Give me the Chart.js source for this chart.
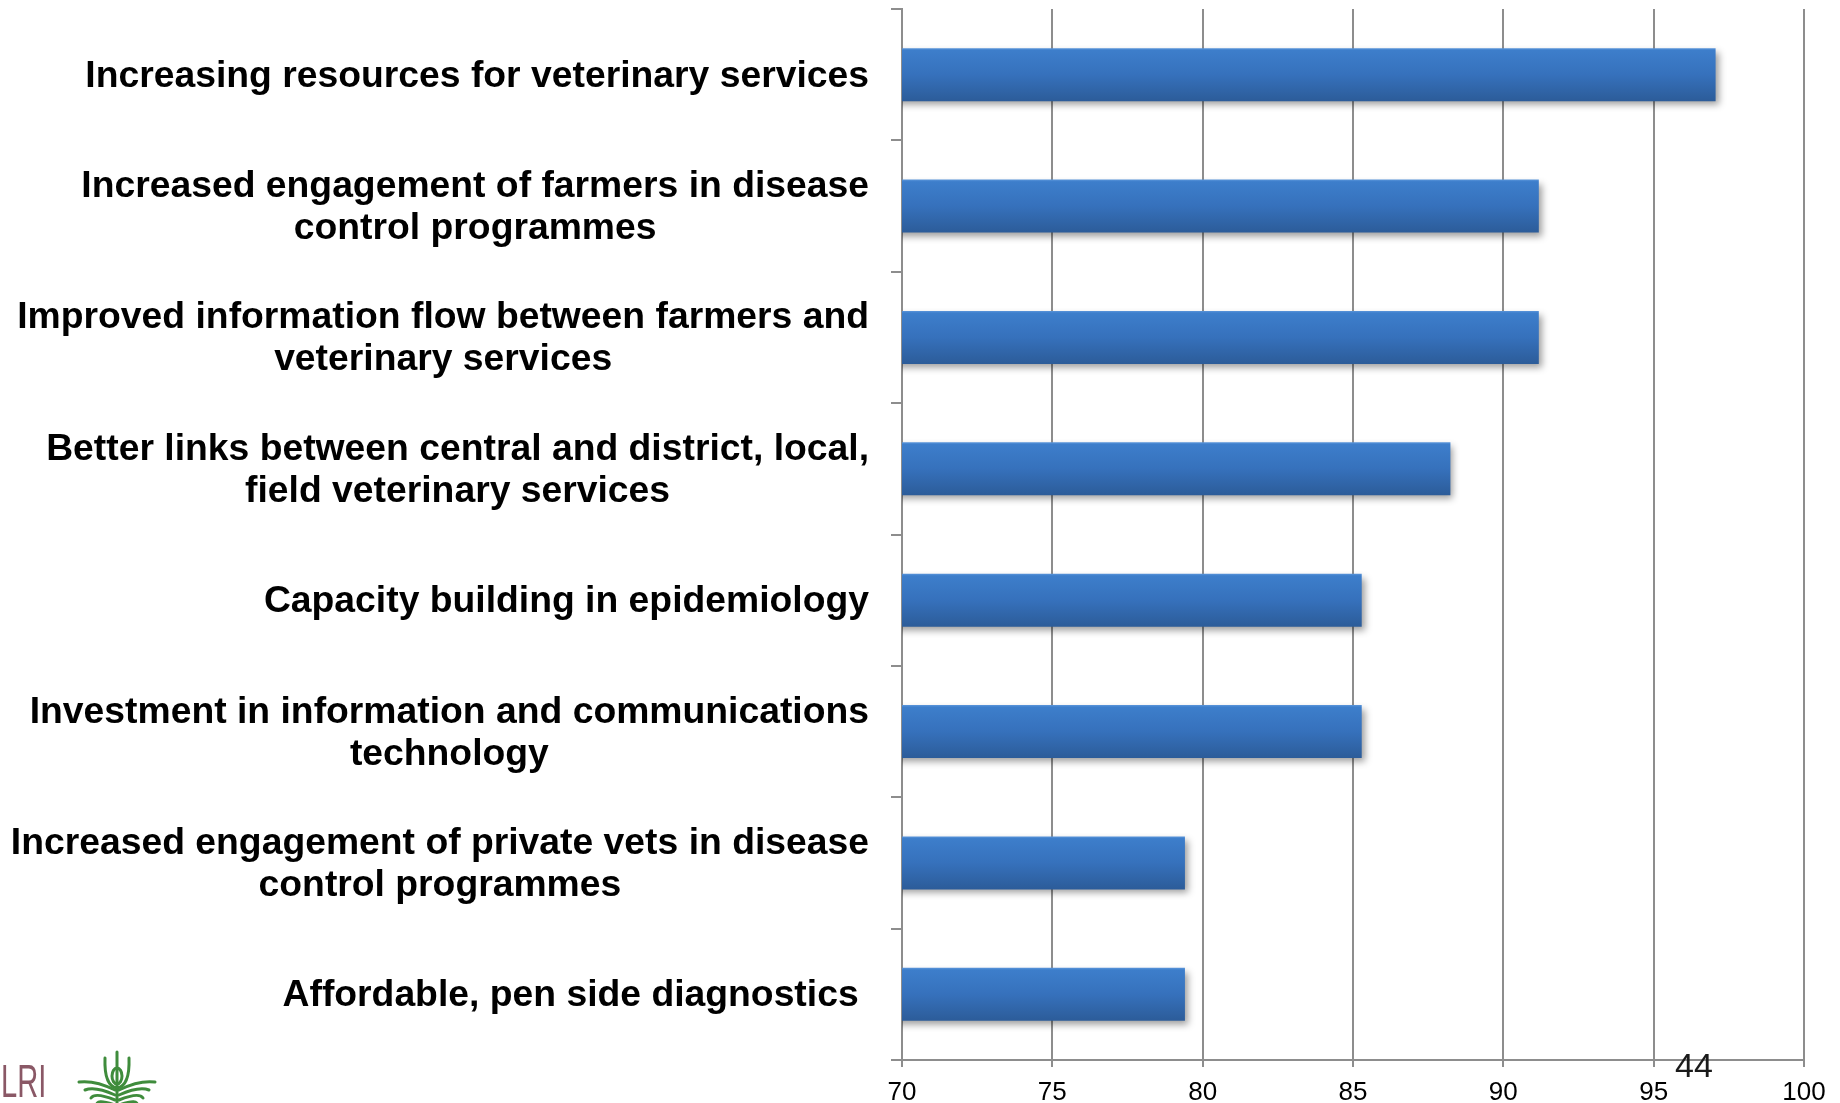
<!DOCTYPE html>
<html><head><meta charset="utf-8">
<script src="https://cdn.jsdelivr.net/npm/chart.js@4.4.1/dist/chart.umd.min.js"></script>
<style>html,body{margin:0;padding:0;background:#fff;overflow:hidden}#wrap{position:relative;width:1840px;height:1103px}</style>
</head><body><div id="wrap"><canvas id="c"></canvas></div>
<script>
const categories = [
  ["Increasing resources for veterinary services"],
  ["Increased engagement of farmers in disease", "control programmes"],
  ["Improved information flow between farmers and", "veterinary services"],
  ["Better links between central and district, local,", "field veterinary services"],
  ["Capacity building in epidemiology"],
  ["Investment in information and communications", "technology"],
  ["Increased engagement of private vets in disease", "control programmes"],
  ["Affordable, pen side diagnostics "]
];
const values = [97.06, 91.18, 91.18, 88.24, 85.29, 85.29, 79.41, 79.41];
const xMin = 70;
const xMax = 100;
const xStep = 5;
const slideNumber = "44";
const logoText = "LRI";

const GRID = '#8d8d8d';
const labelFont = 'bold 37.3px "Liberation Sans", Arial, sans-serif';

function barGradient(c) {
  const chart = c.chart;
  const y = chart.scales && chart.scales.y;
  if (!y || c.dataIndex === undefined || !chart.chartArea) return '#3571bc';
  const yc = y.getPixelForValue(c.dataIndex);
  const band = Math.abs(y.getPixelForValue(1) - y.getPixelForValue(0));
  const h = band * 0.403 / 2;
  if (!isFinite(yc) || !isFinite(h) || h <= 0) return '#3571bc';
  const g = chart.ctx.createLinearGradient(0, yc - h, 0, yc + h);
  g.addColorStop(0, '#5a95da');
  g.addColorStop(0.04, '#3d7ecb');
  g.addColorStop(0.5, '#3671bc');
  g.addColorStop(1, '#2c5c99');
  return g;
}

const shadowPlugin = {
  id: 'shadow',
  beforeDatasetsDraw(chart) {
    const ctx = chart.ctx;
    ctx.save();
    ctx.shadowColor = 'rgba(0,0,0,0.38)';
    ctx.shadowBlur = 7;
    ctx.shadowOffsetX = 3;
    ctx.shadowOffsetY = 4;
  },
  afterDatasetsDraw(chart) { chart.ctx.restore(); }
};

const labelPlugin = {
  id: 'catLabels',
  afterDraw(chart) {
    const ctx = chart.ctx, y = chart.scales.y;
    ctx.save();
    ctx.font = labelFont;
    ctx.fillStyle = '#000';
    ctx.textAlign = 'center';
    ctx.textBaseline = 'alphabetic';
    const right = chart.chartArea.left - 33;
    categories.forEach((lines, i) => {
      const yc = y.getPixelForValue(i);
      const w = Math.max(...lines.map(l => ctx.measureText(l).width));
      const cx = right - w / 2;
      lines.forEach((l, k) => {
        ctx.fillText(l, cx, yc + (k - (lines.length - 1) / 2) * 42 + 12);
      });
    });
    ctx.font = '34px "Liberation Sans", Arial, sans-serif';
    ctx.fillStyle = '#1a1a1a';
    ctx.textAlign = 'center';
    ctx.fillText(slideNumber, 1694, 1077);
    ctx.save();
    ctx.translate(1, 1097);
    ctx.scale(0.62, 1);
    ctx.font = '47px "Liberation Sans", Arial, sans-serif';
    ctx.fillStyle = '#8a5866';
    ctx.textAlign = 'left';
    ctx.fillText(logoText, 0, 0);
    ctx.restore();
    ctx.strokeStyle = '#3f8c3c';
    ctx.lineWidth = 3;
    ctx.lineCap = 'round';
    const cx = 117;
    ctx.beginPath(); ctx.moveTo(cx, 1052); ctx.lineTo(cx, 1103); ctx.stroke();
    ctx.beginPath(); ctx.moveTo(105, 1058); ctx.quadraticCurveTo(104, 1086, cx, 1088); ctx.quadraticCurveTo(130, 1086, 129, 1058); ctx.stroke();
    ctx.beginPath(); ctx.ellipse(cx, 1076, 5, 8, 0, 0, Math.PI * 2); ctx.stroke();
    for (let k = 0; k < 4; k++) {
      const yy = 1086 + k * 5;
      ctx.beginPath(); ctx.moveTo(cx - 2, yy + 4); ctx.quadraticCurveTo(cx - 22, yy - 6 + k, 79 + k * 6, yy - 4 + k * 3); ctx.stroke();
      ctx.beginPath(); ctx.moveTo(cx + 2, yy + 4); ctx.quadraticCurveTo(cx + 22, yy - 6 + k, 155 - k * 6, yy - 4 + k * 3); ctx.stroke();
    }
    ctx.restore();
  }
};

new Chart(document.getElementById('c'), {
  type: 'bar',
  data: {
    labels: categories,
    datasets: [{
      data: values,
      backgroundColor: barGradient,
      borderWidth: 0,
      barPercentage: 0.403,
      categoryPercentage: 1
    }]
  },
  options: {
    indexAxis: 'y',
    responsive: true,
    maintainAspectRatio: false,
    animation: false,
    layout: { padding: { top: 9, right: 36, bottom: 0, left: 0 } },
    plugins: { legend: { display: false }, tooltip: { enabled: false } },
    scales: {
      x: {
        min: xMin, max: xMax,
        afterFit(s) { s.height = 43; },
        ticks: { stepSize: xStep, color: '#000', padding: 10, font: { family: '"Liberation Sans", Arial, sans-serif', size: 26 } },
        grid: { color: GRID, lineWidth: 2, tickLength: 7 },
        border: { display: true, color: GRID, width: 2 }
      },
      y: {
        afterFit(s) { s.width = 902; },
        ticks: { display: false },
        grid: { drawOnChartArea: false, color: GRID, lineWidth: 2, tickLength: 11 },
        border: { display: true, color: GRID, width: 2 }
      }
    }
  },
  plugins: [shadowPlugin, labelPlugin]
});
</script>
</body></html>
